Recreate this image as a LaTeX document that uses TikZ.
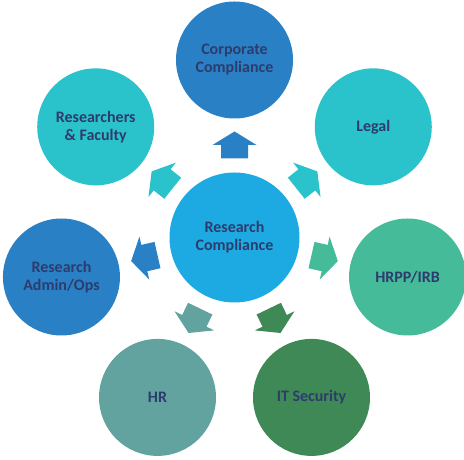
\documentclass[tikz,border=0pt]{standalone}
\usepackage{fontspec}
\setmainfont{Carlito}
\usepackage{xcolor}
\usepackage{tikz}
\usetikzlibrary{positioning}

\definecolor{hubblue}{RGB}{29,170,226}
\definecolor{corpblue}{RGB}{42,128,196}
\definecolor{aqua}{RGB}{43,195,203}
\definecolor{seagreen}{RGB}{69,187,153}
\definecolor{forest}{RGB}{63,137,86}
\definecolor{sage}{RGB}{98,163,159}
\definecolor{navytext}{RGB}{45,60,108}

% block arrow pointing away from the hub, #1 = angle, #2 = colour
\newcommand{\plotBlockArrow}[2]
{
	\begin{scope}[shift={(RC.center)},rotate=#1]
		\fill[#2] (79,-13.5) -- (92.5,-13.5) -- (92.5,-22) -- (106,0)
			-- (92.5,22) -- (92.5,13.5) -- (79,13.5) -- cycle;
	\end{scope}
}

\begin{document}
\begin{tikzpicture}[x=1pt,y=1pt,
	every node/.style={circle,inner sep=0pt,align=center,text=navytext,
		font=\bfseries\fontsize{16}{18}\selectfont},
	hub/.style={minimum size=130pt,fill=hubblue},
	spoke/.style={minimum size=117pt}]
\useasboundingbox (0,0) rectangle (464,460);

\node[hub] (RC) at (234.5,222.5) {Research\\Compliance};

\node[spoke,fill=corpblue] (CC) at ([shift={(90:177.5)}]RC) {Corporate\\Compliance};
\node[spoke,fill=aqua]     (LG) at ([shift={(38.57:177.5)}]RC) {Legal};
\node[spoke,fill=seagreen] (HI) at ([shift={(-12.86:177.5)}]RC) {HRPP/IRB};
\node[spoke,fill=forest]   (IT) at ([shift={(-64.29:177.5)}]RC) {IT Security};
\node[spoke,fill=sage]     (HR) at ([shift={(-115.71:177.5)}]RC) {HR};
\node[spoke,fill=corpblue] (RA) at ([shift={(-167.14:177.5)}]RC) {Research\\Admin/Ops};
\node[spoke,fill=aqua]     (RF) at ([shift={(141.43:177.5)}]RC) {Researchers\\\& Faculty};

\plotBlockArrow{90}{corpblue}
\plotBlockArrow{38.57}{aqua}
\plotBlockArrow{-12.86}{seagreen}
\plotBlockArrow{-64.29}{forest}
\plotBlockArrow{-115.71}{sage}
\plotBlockArrow{-167.14}{corpblue}
\plotBlockArrow{141.43}{aqua}
\end{tikzpicture}
\end{document}
